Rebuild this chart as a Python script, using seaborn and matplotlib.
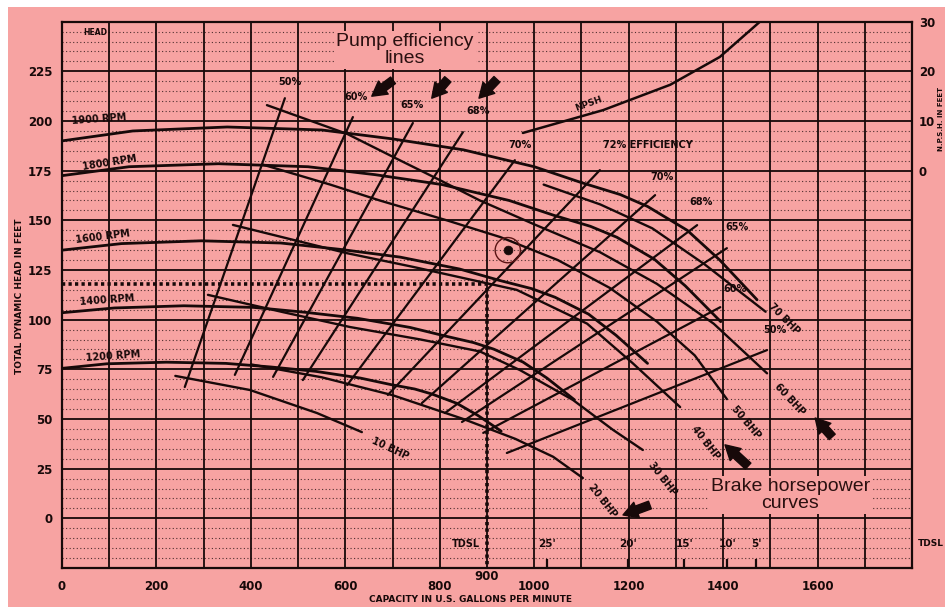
import numpy as np
import pandas as pd
import matplotlib
matplotlib.use("Agg")
import matplotlib.pyplot as plt
from matplotlib.patches import Rectangle
import seaborn as sns

# ---------------- data (GPM, head in feet) ----------------
rpm_names = ["1900 RPM", "1800 RPM", "1600 RPM", "1400 RPM", "1200 RPM"]
rpm1900_gpm = [0, 150, 350, 550, 700, 850, 1000, 1100, 1182, 1240, 1324, 1393, 1472]
rpm1900_head = [190, 195, 197, 195.5, 191, 185.5, 177, 169, 163, 157, 145, 130, 110]
rpm1800_gpm = [0, 142, 331, 521, 663, 805, 947, 1042, 1119, 1175, 1254, 1320, 1395]
rpm1800_head = [172.5, 177, 178.5, 177, 173, 168, 160, 152.5, 147, 141.5, 130.5, 117, 99]
rpm1600_gpm = [0, 126, 295, 463, 589, 716, 842, 926, 995, 1044, 1115, 1173, 1240]
rpm1600_head = [135, 138.3, 139.7, 138.6, 135.4, 131.5, 125.5, 119.8, 115.6, 111.3, 102.8, 92.2, 78]
rpm1400_gpm = [0, 111, 258, 405, 516, 626, 737, 811, 871, 914, 976, 1027, 1085]
rpm1400_head = [103.5, 105.9, 107, 106.2, 103.7, 100.7, 96.1, 91.8, 88.5, 85.2, 78.7, 70.6, 59.7]
rpm1200_gpm = [0, 95, 221, 347, 442, 537, 632, 695, 747, 783, 836, 880, 930]
rpm1200_head = [75.5, 77.8, 78.6, 78, 76.2, 74, 70.6, 67.4, 65.1, 62.6, 57.9, 51.9, 43.9]

bhp_names = ["10 BHP", "20 BHP", "30 BHP", "40 BHP", "50 BHP", "60 BHP", "70 BHP"]
bhp10_gpm = [240, 398, 540, 635]
bhp10_head = [71.7, 64.6, 53, 43.4]
bhp20_gpm = [400, 550, 700, 850, 960, 1040, 1103]
bhp20_head = [77.5, 71, 62, 50, 40, 31, 20.3]
bhp30_gpm = [309, 468, 610, 760, 885, 970, 1082, 1167, 1230]
bhp30_head = [112.5, 103.8, 96.3, 90, 84, 74.6, 59.6, 44.5, 34.4]
bhp40_gpm = [362, 603, 743, 963, 1112, 1209, 1309]
bhp40_head = [147.7, 133.5, 126.6, 115, 98, 78, 56]
bhp50_gpm = [426, 568, 673, 815, 928, 1050, 1160, 1260, 1340, 1408]
bhp50_head = [178, 168, 160, 150, 141.6, 130, 116, 99, 82, 60]
bhp60_gpm = [434, 604, 709, 794, 885, 1000, 1139, 1260, 1380, 1493]
bhp60_head = [208, 193.5, 181, 171, 160, 148, 134, 118, 98, 73]
bhp70_gpm = [1020, 1140, 1250, 1360, 1490]
bhp70_head = [168, 158, 146, 128, 104]

eff_labels = ["50%", "60%", "65%", "68%", "70%", "72% EFFICIENCY",
              "70%", "68%", "65%", "60%", "50%"]
eff_gpm_low = [260, 366, 447, 510, 604, 690, 762, 811, 847, 892, 942]
eff_head_low = [66.1, 72.2, 71.2, 69.6, 67.1, 62.1, 58, 53, 48.5, 43, 32.9]
eff_gpm_high = [472, 616, 743, 849, 959, 1139, 1256, 1345, 1408, 1394, 1493]
eff_head_high = [211.5, 202, 199, 194.4, 180.3, 175.3, 162.7, 147.6, 136, 106.3, 84.7]

npsh_gpm = [976, 1146, 1288, 1393, 1478]
npsh_ft = [7.6, 12.2, 17.3, 22.9, 30]

op_gpm = 900
op_head = 118
point_gpm = [944]
point_head = [135]

tdsl_labels = ["25'", "20'", "15'", "10'", "5'"]
tdsl_gpm = [1027, 1198, 1318, 1409, 1470]

x_tick_values = list(range(0, 1801, 100))
y_tick_values = list(range(-25, 251, 25))
npsh_ticks = [0, 10, 20, 30]

# ---------------- layout / style ----------------
PINK = "#F7A3A2"
INK = "#170909"
BOLD = dict(fontweight="bold", color=INK)

sns.set_theme(style="white")
plt.rcParams["font.family"] = ["DejaVu Sans"]

fig = plt.figure(figsize=(9.47, 6.07), dpi=100, facecolor="white")
fig.patches.append(Rectangle((8 / 947, 0), 937 / 947, 1 - 7 / 607,
                             transform=fig.transFigure, facecolor=PINK,
                             edgecolor="none", zorder=-10))
ax = fig.add_axes([62 / 947, 1 - 568 / 607, 850 / 947, 546.3 / 607])
ax.set_facecolor(PINK)

# ---------------- curves ----------------
rpm_series = [(rpm1900_gpm, rpm1900_head), (rpm1800_gpm, rpm1800_head),
              (rpm1600_gpm, rpm1600_head), (rpm1400_gpm, rpm1400_head),
              (rpm1200_gpm, rpm1200_head)]
rpm_df = pd.concat([pd.DataFrame({"curve": n, "gpm": g, "head": h})
                    for n, (g, h) in zip(rpm_names, rpm_series)], ignore_index=True)
sns.lineplot(data=rpm_df, x="gpm", y="head", units="curve", estimator=None,
             sort=False, color=INK, lw=2.0, ax=ax, legend=False)

bhp_series = [(bhp10_gpm, bhp10_head), (bhp20_gpm, bhp20_head), (bhp30_gpm, bhp30_head),
              (bhp40_gpm, bhp40_head), (bhp50_gpm, bhp50_head), (bhp60_gpm, bhp60_head),
              (bhp70_gpm, bhp70_head)]
bhp_df = pd.concat([pd.DataFrame({"curve": n, "gpm": g, "head": h})
                    for n, (g, h) in zip(bhp_names, bhp_series)], ignore_index=True)
sns.lineplot(data=bhp_df, x="gpm", y="head", units="curve", estimator=None,
             sort=False, color=INK, lw=1.7, ax=ax, legend=False)

eff_df = pd.concat([pd.DataFrame({"curve": f"e{i}", "gpm": [gl, gh], "head": [hl, hh]})
                    for i, (gl, hl, gh, hh) in enumerate(zip(eff_gpm_low, eff_head_low,
                                                             eff_gpm_high, eff_head_high))],
                   ignore_index=True)
sns.lineplot(data=eff_df, x="gpm", y="head", units="curve", estimator=None,
             sort=False, color=INK, lw=1.6, ax=ax, legend=False)

# operating point dotted lines
ax.plot([0, op_gpm, op_gpm], [op_head, op_head, -25], color=INK, lw=2.6,
        linestyle=(0, (0.9, 0.9)), dash_capstyle="butt", zorder=3)
sns.scatterplot(x=point_gpm, y=point_head, s=330, facecolor="none",
                edgecolor="#5a1414", linewidth=1.0, ax=ax, zorder=4)
sns.scatterplot(x=point_gpm, y=point_head, s=40, color=INK, edgecolor=INK, ax=ax, zorder=4)

ax.set_xlim(0, 1800)
ax.set_ylim(-25, 250)
ax.set_xticks(x_tick_values)
ax.set_xticklabels([str(v) if (v % 200 == 0 and v <= 1600) else "" for v in x_tick_values])
ax.set_yticks(y_tick_values)
ax.set_yticklabels([str(v) if 0 <= v <= 225 else "" for v in y_tick_values])
ax.set_yticks(np.arange(-25, 251, 5), minor=True)
ax.set_axisbelow(True)
ax.grid(which="major", color=INK, lw=1.3)
ax.grid(which="minor", axis="y", color=INK, lw=0.8, linestyle=(0, (1, 2.2)), alpha=0.75)
ax.tick_params(which="both", length=0)
ax.tick_params(axis="x", pad=9, labelsize=8.5, labelcolor=INK)
ax.tick_params(axis="y", pad=7, labelsize=8.5, labelcolor=INK)
for lab in ax.get_xticklabels() + ax.get_yticklabels():
    lab.set_fontweight("bold")
for sp in ax.spines.values():
    sp.set_color(INK)
    sp.set_linewidth(1.6)
ax.set_xlabel("")
ax.set_ylabel("")

# NPSH on secondary axis
ax2 = ax.twinx()
sns.lineplot(x=npsh_gpm, y=npsh_ft, color=INK, lw=1.8, ax=ax2, legend=False)
ax2.set_ylim(-80, 30)
ax2.set_yticks(npsh_ticks)
ax2.tick_params(length=0, pad=5, labelsize=8.5, labelcolor=INK)
for lab in ax2.get_yticklabels():
    lab.set_fontweight("bold")
ax2.grid(False)
for sp in ax2.spines.values():
    sp.set_visible(False)
ax2.set_ylabel("")
ax2.set_xlabel("")

# ---------------- labels on curves ----------------
rpm_label_pos = [(21, 201, 4), (42, 178.8, 9), (28, 141.6, 7), (36, 110, 4), (49, 81.7, 4)]
for name, (gx, hy, rot) in zip(rpm_names, rpm_label_pos):
    ax.text(gx, hy, name, fontsize=7, rotation=rot, ha="left", va="center", **BOLD)

bhp_label_pos = [(656, 39.2, -25), (1118, 16.8, -52), (1245, 27.8, -52),
                 (1336, 45.9, -52), (1421, 56, -50), (1512, 67.1, -47), (1499, 107.4, -45)]
for name, (gx, hy, rot) in zip(bhp_names, bhp_label_pos):
    ax.text(gx, hy, name, fontsize=7, rotation=rot, rotation_mode="anchor",
            ha="left", va="center", **BOLD)

eff_label_pos = [(483, 219.6), (622, 212), (741, 208), (881, 205), (970, 187.8),
                 (1146, 187.8), (1271, 171.8), (1353, 159.2), (1429, 146.6),
                 (1425, 115.3), (1510, 94.8)]
for lab, (gx, hy) in zip(eff_labels, eff_label_pos):
    ax.text(gx, hy, lab, fontsize=7, ha="left" if "EFF" in lab else "center",
            va="center", **BOLD)

ax.text(1116, 208.8, "NPSH", fontsize=6.5, rotation=20, ha="center", va="center", **BOLD)
ax.text(70, 244.7, "HEAD", fontsize=5.5, ha="center", va="center", **BOLD)

# TDSL scale
ax.text(855, -13, "TDSL", fontsize=7, ha="center", va="center", **BOLD)
for lab, g in zip(tdsl_labels, tdsl_gpm):
    ax.text(g, -13, lab, fontsize=7.5, ha="center", va="center", **BOLD)
ax.vlines(tdsl_gpm, -24.5, -20.5, color=INK, lw=1.6)
ax.text(op_gpm, -29.5, "900", fontsize=8.5, ha="center", va="center", clip_on=False, **BOLD)

# annotations
box = dict(boxstyle="square,pad=0.12", facecolor=PINK, edgecolor="none")
ax.text(726, 235.7, "Pump efficiency\nlines", fontsize=14, family="Liberation Sans",
        ha="center", va="center", linespacing=1.0, color="#2a1010", bbox=box, zorder=6)
ax.text(1542, 11.7, "Brake horsepower\ncurves", fontsize=14, family="Liberation Sans",
        ha="center", va="center", linespacing=1.0, color="#2a1010", bbox=box, zorder=6)

arrow_pairs = [((656, 212.5), (701, 220.5)), ((783, 211.5), (817, 221)),
               ((883, 211.5), (921, 221)), ((1188, 1.7), (1245, 6.7)),
               ((1404, 37), (1453, 26.3)), ((1595, 50.5), (1631, 41))]
for head_pt, tail_pt in arrow_pairs:
    ax.annotate("", xy=head_pt, xytext=tail_pt,
                arrowprops=dict(arrowstyle="simple,head_length=0.8,head_width=0.9,tail_width=0.45",
                                fc=INK, ec=INK, mutation_scale=13, shrinkA=0, shrinkB=0),
                zorder=7)

# axis titles
fig.text(20 / 947, 1 - 296 / 607, "TOTAL DYNAMIC HEAD IN FEET", rotation=90,
         fontsize=6.5, ha="center", va="center", **BOLD)
fig.text(470 / 947, 1 - 600 / 607, "CAPACITY IN U.S. GALLONS PER MINUTE",
         fontsize=6.5, ha="center", va="center", **BOLD)
fig.text(941 / 947, 1 - 119 / 607, "N.P.S.H. IN FEET", rotation=90,
         fontsize=5, ha="center", va="center", **BOLD)
fig.text(918 / 947, 1 - 543 / 607, "TDSL", fontsize=6.5, ha="left", va="center", **BOLD)

fig.savefig("out.png", dpi=100, facecolor=fig.get_facecolor())
